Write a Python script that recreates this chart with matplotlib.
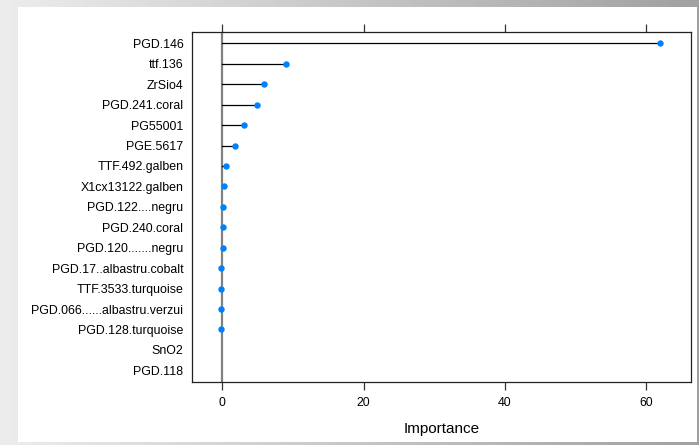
import numpy as np
import matplotlib
matplotlib.use("Agg")
import matplotlib.pyplot as plt

plt.rcParams['font.family'] = ['Liberation Sans', 'DejaVu Sans']

# variables from top to bottom
features = ["PGD.146", "ttf.136", "ZrSio4", "PGD.241.coral", "PG55001", "PGE.5617",
            "TTF.492.galben", "X1cx13122.galben", "PGD.122....negru", "PGD.240.coral",
            "PGD.120.......negru", "PGD.17..albastru.cobalt", "TTF.3533.turquoise",
            "PGD.066......albastru.verzui", "PGD.128.turquoise", "SnO2", "PGD.118"]
importance = [62.0, 9.05, 5.93, 4.85, 3.0, 1.83, 0.46, 0.18, 0.04, 0.08,
              0.08, -0.15, -0.15, -0.15, -0.2, np.nan, np.nan]
xticks = [0, 20, 40, 60]

W, H = 699, 445
fig = plt.figure(figsize=(W/100, H/100), dpi=100)

# grey shadow frame around the white page (light on the left, darker right/bottom)
bg = fig.add_axes([0, 0, 1, 1], zorder=-5)
gx = np.linspace(0, 1, W)
shade = np.tile(0.93 - 0.30 * gx, (H, 1))
bg.imshow(np.dstack([shade] * 3), aspect="auto", extent=(0, W, H, 0))
bg.add_patch(plt.Rectangle((18, 7), 697 - 18, 442 - 7, facecolor="white", edgecolor="none"))
bg.set_xlim(0, W)
bg.set_ylim(H, 0)
bg.axis("off")

ax = fig.add_axes([191.7/W, 1-382/H, 499/W, 350.3/H])
ax.set_facecolor("white")
n = len(features)
y = np.arange(n)

ax.axvline(0, color="#808080", lw=1.6, zorder=1)
for yi, v in zip(y, importance):
    if np.isnan(v):
        continue
    ax.plot([0, v], [yi, yi], color="black", lw=0.9, zorder=2)
ax.plot(importance, y, "o", color="#0080ff", ms=3.6, mec="#0080ff", zorder=3)

ax.set_xlim(-4.34, 66.34)
ax.set_ylim(n - 1 + 0.57, -0.57)
ax.set_yticks(y)
ax.set_yticklabels(features, fontsize=8.9)
ax.tick_params(axis="y", length=0, pad=6)
ax.set_xticks(xticks)
ax.tick_params(axis="x", top=True, direction="out", length=5.5, width=0.9,
               color="#333333", labelsize=8.8, pad=5)
ax.set_xlabel("Importance", fontsize=11, labelpad=10)
for s in ax.spines.values():
    s.set_linewidth(0.9)
    s.set_color("#222222")

fig.savefig("out.png", dpi=100)
